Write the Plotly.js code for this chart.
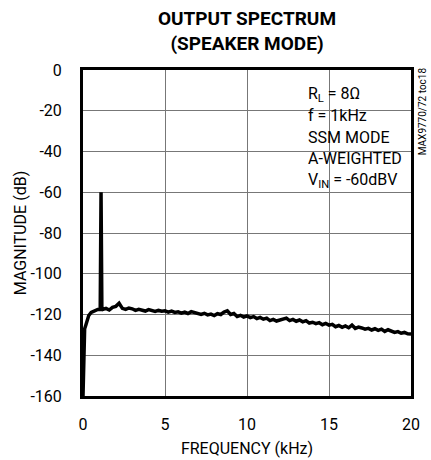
<!DOCTYPE html>
<html>
<head>
<meta charset="utf-8">
<script src="https://cdn.plot.ly/plotly-3.0.1.min.js"></script>
<style>
  html, body { margin: 0; padding: 0; background: #fff; }
  #chart { width: 431px; height: 460px; }
</style>
</head>
<body>
<div id="chart"></div>
<script>
// Frequency (kHz) and magnitude (dB)
const freqKHz = [
  0.00, 0.03, 0.06, 0.10, 0.18, 0.25, 0.35, 0.50, 0.70, 0.90, 1.05, 1.10, 1.15,
  1.2, 1.4, 1.6, 1.8, 2.0, 2.2, 2.4, 2.6, 2.8, 3.0,
  3.2, 3.4, 3.6, 3.8, 4.0, 4.2, 4.4, 4.6, 4.8, 5.0,
  5.2, 5.4, 5.6, 5.8, 6.0, 6.2, 6.4, 6.6, 6.8, 7.0,
  7.2, 7.4, 7.6, 7.8, 8.0, 8.2, 8.4, 8.6, 8.8, 9.0,
  9.2, 9.4, 9.6, 9.8, 10.0, 10.2, 10.4, 10.6, 10.8, 11.0,
  11.2, 11.4, 11.6, 11.8, 12.0, 12.2, 12.4, 12.6, 12.8, 13.0,
  13.2, 13.4, 13.6, 13.8, 14.0, 14.2, 14.4, 14.6, 14.8, 15.0,
  15.2, 15.4, 15.6, 15.8, 16.0, 16.2, 16.4, 16.6, 16.8, 17.0,
  17.2, 17.4, 17.6, 17.8, 18.0, 18.2, 18.4, 18.6, 18.8, 19.0,
  19.2, 19.4, 19.6, 19.8, 20.0
];
const magnitudeDB = [
  -160, -145, -132, -127, -125, -123, -120.5, -119, -118, -117.5, -117.5, -60, -117,
  -117.5, -117, -117.8, -116.5, -116, -114.5, -117, -117.5, -116.8, -117.2,
  -118, -117.5, -117.8, -118.3, -117.6, -118, -118.5, -118, -118.4, -118.2,
  -118.8, -118.3, -119, -118.7, -119.3, -118.8, -119.5, -118.6, -119, -119.6,
  -120, -119.4, -120.2, -119.8, -120.5, -119.6, -120, -118.8, -118.2, -120,
  -119.5, -121, -120.4, -121.3, -120.7, -121.5, -121, -122, -121.4, -122.3,
  -121.8, -123, -122.4, -123.2, -122.6, -122, -121.8, -123, -122.4, -123.3,
  -122.7, -123.6, -123, -124.2, -123.8, -124.5, -124, -125, -124.4, -125.2,
  -124.8, -126, -125.4, -126.3, -125.6, -126.5, -125.2, -126.8, -126.2, -126.6,
  -127.2, -126.8, -127.6, -127, -127.8, -127.2, -128.3, -127.5, -128.2, -128.8,
  -128.4, -129.2, -128.8, -129.5, -129.6
];
const xTicks = [0, 5, 10, 15, 20];
const yTicks = [0, -20, -40, -60, -80, -100, -120, -140, -160];
const conditions = [
  "R<sub>L</sub> = 8Ω",
  "f = 1kHz",
  "SSM MODE",
  "A-WEIGHTED",
  "V<sub>IN</sub> = -60dBV"
];

const FONT = "Roboto, 'Liberation Sans', Arial, sans-serif";
const lineY = [0.926, 0.859, 0.794, 0.727, 0.660];

const annotations = conditions.map((t, i) => ({
  text: t, xref: 'paper', yref: 'paper', x: 0.68, y: lineY[i],
  xanchor: 'left', yanchor: 'middle', showarrow: false,
  font: { family: FONT, size: 16, color: '#000' }
}));
annotations.push({
  text: 'MAX9770/72 toc18', xref: 'paper', yref: 'paper',
  x: 1.034, y: 0.874, xanchor: 'center', yanchor: 'middle',
  textangle: -90, showarrow: false,
  font: { family: FONT, size: 10, color: '#000' }
});

const trace = {
  x: freqKHz, y: magnitudeDB, type: 'scatter', mode: 'lines',
  line: { color: '#000', width: 3.5 }, hoverinfo: 'skip'
};

const layout = {
  width: 431, height: 460,
  margin: { l: 83, r: 20, t: 70, b: 64 },
  paper_bgcolor: '#fff', plot_bgcolor: '#fff',
  showlegend: false,
  font: { family: FONT, size: 16, color: '#000' },
  title: {
    text: '<b>OUTPUT SPECTRUM</b><br><b>(SPEAKER MODE)</b>',
    font: { family: FONT, size: 19, color: '#000' },
    xref: 'paper', x: 0.5, xanchor: 'center',
    yref: 'container', y: 0.946, yanchor: 'middle'
  },
  xaxis: {
    range: [0, 20], tickvals: xTicks, ticktext: xTicks.map(String),
    showgrid: true, gridcolor: '#777', gridwidth: 1, zeroline: false,
    showline: true, mirror: true, linecolor: '#000', linewidth: 3,
    ticks: '', ticklabelstandoff: 12,
    tickfont: { family: FONT, size: 16, color: '#000' },
    title: { text: 'FREQUENCY (kHz)', standoff: 10,
             font: { family: FONT, size: 16, color: '#000' } }
  },
  yaxis: {
    range: [-160, 0], tickvals: yTicks, ticktext: yTicks.map(String),
    showgrid: true, gridcolor: '#777', gridwidth: 1, zeroline: false,
    showline: true, mirror: true, linecolor: '#000', linewidth: 3,
    ticks: '', ticklabelstandoff: 15,
    tickfont: { family: FONT, size: 16, color: '#000' },
    title: { text: 'MAGNITUDE (dB)', standoff: 0,
             font: { family: FONT, size: 16, color: '#000' } }
  },
  shapes: [{
    type: 'rect', xref: 'paper', yref: 'paper',
    x0: 0.655, x1: 0.973, y0: 0.62, y1: 0.957,
    fillcolor: '#fff', line: { width: 0 }, layer: 'between'
  }],
  annotations: annotations
};

Plotly.newPlot('chart', [trace], layout, { displayModeBar: false, staticPlot: true });
</script>
</body>
</html>
